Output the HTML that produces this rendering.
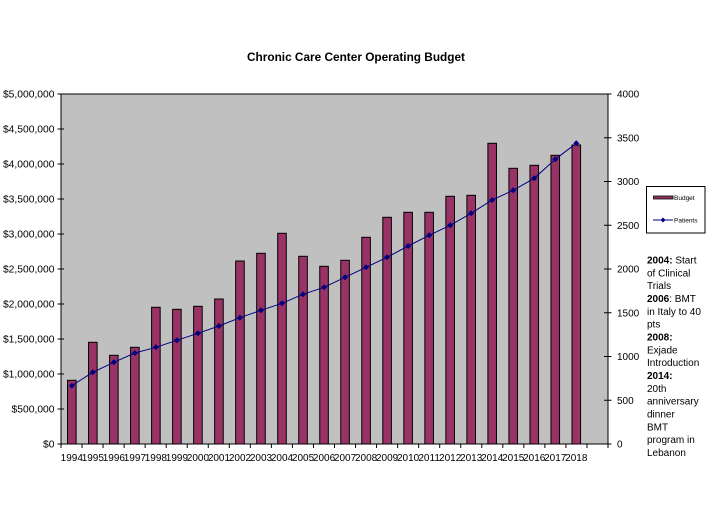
<!DOCTYPE html>
<html><head><meta charset="utf-8"><style>
html,body{margin:0;padding:0;background:#fff;}
svg{display:block;}
text{font-family:"Liberation Sans",Arial,sans-serif;fill:#000;}
</style></head><body>
<svg width="706" height="520" viewBox="0 0 706 520" xmlns="http://www.w3.org/2000/svg">
<rect x="0" y="0" width="706" height="520" fill="#fff"/>
<text x="356" y="61" font-size="12" font-weight="bold" text-anchor="middle" textLength="218" lengthAdjust="spacingAndGlyphs">Chronic Care Center Operating Budget</text>
<rect x="61" y="94" width="547" height="350" fill="#c0c0c0" stroke="#000" stroke-width="1"/>
<g id="bars" fill="#993366" stroke="#000" stroke-width="1"></g>
<g id="ticks" stroke="#000" stroke-width="1"></g>
<g id="labels"></g>
<polyline id="pline" fill="none" stroke="#000080" stroke-width="1"/>
<g id="marks" fill="#000080"></g>
<rect x="646.5" y="186.5" width="58.5" height="46.5" fill="#fff" stroke="#000" stroke-width="1"/>
<rect x="653.5" y="196" width="19.5" height="3" fill="#993366" stroke="#000" stroke-width="0.8"/>
<text x="674" y="200" font-size="6.5">Budget</text>
<line x1="653" y1="220" x2="673" y2="220" stroke="#000080" stroke-width="1"/>
<polygon points="663,217.5 665.5,220 663,222.5 660.5,220" fill="#000080"/>
<text x="674" y="222.5" font-size="6.5">Patients</text>
<g font-size="10" fill="#111">
<text x="647" y="263.5"><tspan font-weight="bold">2004:</tspan> Start</text>
<text x="647" y="276.3">of Clinical</text>
<text x="647" y="289.2">Trials</text>
<text x="647" y="302"><tspan font-weight="bold">2006</tspan>: BMT</text>
<text x="647" y="314.8">in Italy to 40</text>
<text x="647" y="327.7">pts</text>
<text x="647" y="340.5" font-weight="bold">2008:</text>
<text x="647" y="353.3">Exjade</text>
<text x="647" y="366.2">Introduction</text>
<text x="647" y="379" font-weight="bold">2014:</text>
<text x="647" y="391.8">20th</text>
<text x="647" y="404.7">anniversary</text>
<text x="647" y="417.5">dinner</text>
<text x="647" y="430.3">BMT</text>
<text x="647" y="443.2">program in</text>
<text x="647" y="456">Lebanon</text>
</g>
</svg>
<script>
(function(){
var NS="http://www.w3.org/2000/svg";
function el(t,a,p){var e=document.createElementNS(NS,t);for(var k in a)e.setAttribute(k,a[k]);p.appendChild(e);return e;}
var tops=[380.3,342.3,355.3,347.3,307.3,309.3,306.3,299,261,253.3,233.3,256.3,266.3,260.3,237.3,217.3,212.3,212.3,196.3,195.3,143.3,168.3,165.3,155.3,145];
var pts=[385.7,372.3,362.3,353,347.3,340.3,333.3,326,317.7,310.3,303.3,294.3,287.3,277.3,267.3,257.3,246,235.3,225.3,213.3,200,190.3,178.3,159.3,143.3];
var bars=document.getElementById("bars"),ticks=document.getElementById("ticks"),labels=document.getElementById("labels"),marks=document.getElementById("marks");
var step=21.02, c0=71.8;
var pl=[];
for(var i=0;i<25;i++){
 var c=c0+step*i;
 el("rect",{x:(c-4.3).toFixed(2),y:tops[i],width:8.6,height:(444-tops[i]).toFixed(2)},bars);
 pl.push(c.toFixed(2)+","+pts[i]);
 el("polygon",{points:(c)+","+(pts[i]-3)+" "+(c+3)+","+pts[i]+" "+c+","+(pts[i]+3)+" "+(c-3)+","+pts[i]},marks);
 var t=el("text",{x:c.toFixed(2),y:461,"font-size":10,"text-anchor":"middle"},labels);t.textContent=String(1994+i);
}
document.getElementById("pline").setAttribute("points",pl.join(" "));
for(var k=0;k<=26;k++){var x=(61+547/26*k).toFixed(2);el("line",{x1:x,y1:444,x2:x,y2:448},ticks);}
var lv=["$0","$500,000","$1,000,000","$1,500,000","$2,000,000","$2,500,000","$3,000,000","$3,500,000","$4,000,000","$4,500,000","$5,000,000"];
for(var j=0;j<=10;j++){var y=444-35*j;el("line",{x1:57.5,y1:y,x2:64,y2:y},ticks);
 var t2=el("text",{x:54.5,y:y+3.6,"font-size":10.3,"text-anchor":"end"},labels);t2.textContent=lv[j];}
for(var m=0;m<=8;m++){var y2=444-43.75*m;el("line",{x1:604,y1:y2,x2:611.5,y2:y2},ticks);
 var t3=el("text",{x:617,y:y2+3.6,"font-size":10},labels);t3.textContent=String(500*m);}
})();
</script>
</body></html>
